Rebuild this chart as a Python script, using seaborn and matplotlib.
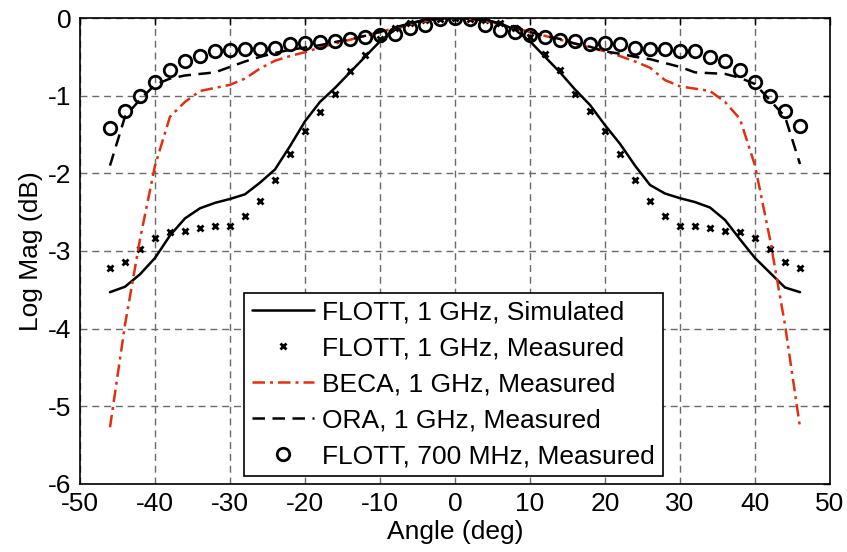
import pandas as pd
from matplotlib import pyplot as plt
import seaborn as sns

angles = [-46, -44, -42, -40, -38, -36, -34, -32, -30, -28, -26, -24, -22, -20, -18, -16,
          -14, -12, -10, -8, -6, -4, -2, 0, 2, 4, 6, 8, 10, 12, 14, 16, 18, 20, 22, 24,
          26, 28, 30, 32, 34, 36, 38, 40, 42, 44, 46]

flott_1g_sim = [-3.53, -3.46, -3.30, -3.09, -2.80, -2.58, -2.45, -2.38, -2.33, -2.27, -2.12,
                -1.95, -1.65, -1.33, -1.08, -0.90, -0.70, -0.50, -0.30, -0.15, -0.07, -0.02,
                -0.01, 0.00, -0.01, -0.02, -0.07, -0.15, -0.30, -0.50, -0.70, -0.92, -1.12,
                -1.38, -1.62, -1.90, -2.15, -2.26, -2.32, -2.37, -2.44, -2.60, -2.85, -3.09,
                -3.28, -3.47, -3.53]

flott_1g_meas = [-3.22, -3.14, -2.98, -2.83, -2.76, -2.74, -2.71, -2.68, -2.68, -2.55, -2.35,
                 -2.08, -1.75, -1.46, -1.21, -0.98, -0.68, -0.48, -0.27, -0.13, -0.06, -0.02,
                 -0.01, 0.00, -0.01, -0.02, -0.06, -0.13, -0.25, -0.46, -0.67, -0.98, -1.20,
                 -1.45, -1.75, -2.08, -2.35, -2.55, -2.68, -2.68, -2.71, -2.74, -2.76, -2.83,
                 -2.98, -3.14, -3.22]

beca_1g_meas = [-5.27, -3.95, -2.85, -1.90, -1.27, -1.08, -0.94, -0.90, -0.86, -0.78, -0.65,
                -0.55, -0.49, -0.44, -0.38, -0.33, -0.28, -0.23, -0.18, -0.13, -0.08, -0.04,
                -0.01, 0.00, -0.01, -0.04, -0.08, -0.13, -0.18, -0.23, -0.28, -0.33, -0.38,
                -0.43, -0.49, -0.56, -0.64, -0.80, -0.88, -0.91, -0.94, -1.08, -1.30, -1.90,
                -2.85, -3.95, -5.27]

ora_1g_meas = [-1.90, -1.27, -1.05, -0.86, -0.78, -0.74, -0.72, -0.70, -0.63, -0.56, -0.50,
               -0.45, -0.41, -0.38, -0.35, -0.31, -0.27, -0.23, -0.18, -0.12, -0.07, -0.03,
               -0.01, 0.00, -0.01, -0.03, -0.07, -0.12, -0.18, -0.23, -0.27, -0.33, -0.37,
               -0.43, -0.46, -0.50, -0.53, -0.58, -0.63, -0.70, -0.71, -0.72, -0.77, -0.85,
               -1.06, -1.27, -1.88]

flott_700m_meas = [-1.41, -1.20, -1.00, -0.82, -0.67, -0.56, -0.49, -0.42, -0.41, -0.40, -0.40,
                   -0.39, -0.33, -0.32, -0.31, -0.29, -0.27, -0.25, -0.22, -0.20, -0.13, -0.09,
                   -0.01, 0.00, -0.01, -0.09, -0.15, -0.18, -0.22, -0.25, -0.28, -0.29, -0.33,
                   -0.32, -0.34, -0.39, -0.40, -0.40, -0.42, -0.42, -0.50, -0.56, -0.67, -0.82,
                   -1.00, -1.20, -1.39]

labels = ['FLOTT, 1 GHz, Simulated', 'FLOTT, 1 GHz, Measured', 'BECA, 1 GHz, Measured',
          'ORA, 1 GHz, Measured', 'FLOTT, 700 MHz, Measured']

df = pd.DataFrame({'angle': angles, 'sim': flott_1g_sim, 'meas': flott_1g_meas,
                   'beca': beca_1g_meas, 'ora': ora_1g_meas, 'f700': flott_700m_meas})

sns.set_style('white')
plt.rcParams['font.family'] = ['Liberation Sans', 'DejaVu Sans']
plt.rcParams['font.size'] = 19
plt.rcParams['axes.unicode_minus'] = False
plt.rcParams['text.color'] = 'black'
plt.rcParams['axes.labelcolor'] = 'black'

fig, ax = plt.subplots(figsize=(8.47, 5.52), dpi=100)
fig.subplots_adjust(left=80 / 847, right=830 / 847, top=1 - 18 / 552, bottom=1 - 484 / 552)

sns.lineplot(data=df, x='angle', y='sim', ax=ax, color='black', linewidth=1.8,
             label=labels[0])
sns.lineplot(data=df, x='angle', y='meas', ax=ax, color='black', linestyle='', marker='x',
             markersize=5, markeredgewidth=2.0, markeredgecolor='black', label=labels[1])
sns.lineplot(data=df, x='angle', y='beca', ax=ax, color='#e03010', linewidth=1.8,
             label=labels[2]).lines[-1].set_dashes([5, 2, 1.2, 2])
sns.lineplot(data=df, x='angle', y='ora', ax=ax, color='black', linewidth=1.8,
             label=labels[3]).lines[-1].set_dashes([5, 3])
sns.lineplot(data=df, x='angle', y='f700', ax=ax, color='black', linestyle='', marker='o',
             markersize=9, markerfacecolor='none', markeredgecolor='black',
             markeredgewidth=2.0, label=labels[4])

ax.set_xlim(-50, 50)
ax.set_ylim(-6, 0)
ax.set_xticks([-50, -40, -30, -20, -10, 0, 10, 20, 30, 40, 50])
ax.set_yticks([-6, -5, -4, -3, -2, -1, 0])
ax.set_xlabel('Angle (deg)', fontsize=19, labelpad=3)
ax.set_ylabel('Log Mag (dB)', fontsize=19, labelpad=4)
ax.grid(True, color='#6a6a6a', linestyle=(0, (5, 3.5)), linewidth=1.0)
ax.tick_params(direction='in', length=5, width=1, top=True, right=True, labelsize=19,
               pad=6, colors='black')
for s in ax.spines.values():
    s.set_visible(True)
    s.set_color('black')
    s.set_linewidth(1.2)

leg = ax.legend(loc='lower left', bbox_to_anchor=(244 / 847, 1 - 476 / 552),
                bbox_transform=fig.transFigure, borderaxespad=0, fontsize=19,
                handlelength=2.35, handletextpad=0.3, labelspacing=0.45, numpoints=1,
                fancybox=False, framealpha=1, edgecolor='black', borderpad=0.3)
leg.get_frame().set_linewidth(1.2)

plt.savefig('out.png', dpi=100)
